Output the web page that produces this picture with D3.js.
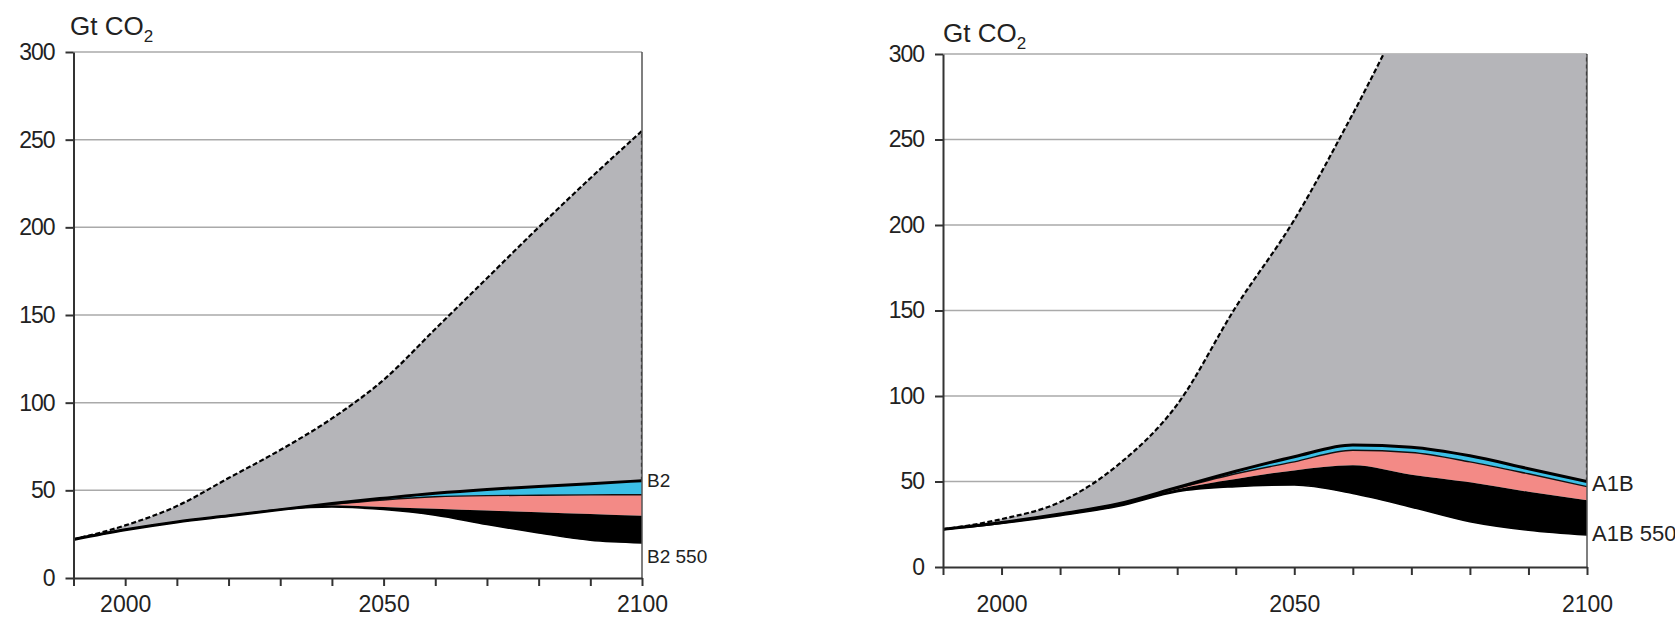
<!DOCTYPE html>
<html>
<head>
<meta charset="utf-8">
<script src="https://cdn.jsdelivr.net/npm/d3@7"></script>
<style>
  body { margin: 0; background: #fff; }
  text { font-family: "Liberation Sans Narrow", "Arial Narrow", "Liberation Sans", Arial, sans-serif; fill: #222; }
</style>
</head>
<body>
<svg id="chart" width="1675" height="619"></svg>
<script>
// years sampled every decade
const years = [1990, 2000, 2010, 2020, 2030, 2040, 2050, 2060, 2070, 2080, 2090, 2100]
const yTicks = [0, 50, 100, 150, 200, 250, 300]
const xLabelYears = [2000, 2050, 2100]

// B2 scenario (Gt CO2)
const b2Baseline = [22, 30, 41, 57, 73, 91, 113, 142, 171, 200, 228, 255]
const b2Blue     = [22, 27.5, 32, 35.5, 39, 42.5, 45.5, 48.3, 50.5, 52.2, 53.8, 55.5]
const b2Pink     = [22, 27.5, 32, 35.5, 39, 42, 44.5, 46.3, 47, 47.2, 47.4, 47.5]
const b2Black    = [22, 27.5, 32, 35.5, 39, 41.5, 40.5, 39.5, 38.5, 37.5, 36.5, 35.5]
const b2Stab     = [22, 27.5, 32, 35.5, 39, 40.5, 39, 35.8, 30.5, 25.7, 21.5, 20]

// A1B scenario (Gt CO2)
const a1bBaseline = [22, 28, 38, 60, 95, 152, 203, 265, 330, 380, 420, 450]
const a1bBlue     = [22, 26, 31, 37, 46.5, 56, 64.5, 71.3, 70, 65, 57.5, 50]
const a1bPink     = [22, 26, 31, 37, 46, 54.5, 61.5, 68.3, 67, 61.5, 54.5, 47]
const a1bBlack    = [22, 26, 31, 37, 45.5, 51.5, 56.5, 59.5, 54, 49.5, 44, 39]
const a1bStab     = [22, 25.5, 30, 35.5, 44, 47, 48, 43, 35, 26.5, 21.5, 18.7]

const colors = { gray: '#b5b5b9', blue: '#3bbfe6', pink: '#f38a86', black: '#000', grid: '#aaa', axis: '#333' }

const panels = [
  { id: 'b2', left: 73.5, right: 642, top: 52, bottom: 578, titleY: 35, titleX: 70, xPad: 10,
    base: b2Baseline, blue: b2Blue, pink: b2Pink, black: b2Black, stab: b2Stab,
    topLabel: 'B2', topDy: 0, lowLabel: 'B2 550', lowDy: 13, labelSize: 19 },
  { id: 'a1b', left: 943, right: 1587, top: 54, bottom: 567, titleY: 42, titleX: 943, xPad: 21,
    base: a1bBaseline, blue: a1bBlue, pink: a1bPink, black: a1bBlack, stab: a1bStab,
    topLabel: 'A1B', topDy: 2, lowLabel: 'A1B 550', lowDy: -2, labelSize: 22 }
]

const svg = d3.select('#chart')
const defs = svg.append('defs')

function drawPanel (p) {
  const x = d3.scaleLinear().domain([1990, 2100]).range([p.left, p.right])
  const y = d3.scaleLinear().domain([0, 300]).range([p.bottom, p.top])
  const g = svg.append('g')

  defs.append('clipPath').attr('id', 'clip-' + p.id)
    .append('rect')
    .attr('x', p.left).attr('y', p.top)
    .attr('width', p.right - p.left).attr('height', p.bottom - p.top)

  // horizontal grid
  g.append('g').selectAll('line')
    .data(yTicks.filter(d => d > 0))
    .join('line')
    .attr('x1', p.left).attr('x2', p.right)
    .attr('y1', d => y(d)).attr('y2', d => y(d))
    .attr('stroke', colors.grid).attr('stroke-width', 1.5)

  const rows = years.map((yr, i) => ({
    yr, base: p.base[i], blue: p.blue[i], pink: p.pink[i], black: p.black[i], stab: p.stab[i]
  }))
  const curve = d3.curveMonotoneX
  const band = (hi, lo) => d3.area().x(d => x(d.yr)).y0(d => y(d[lo])).y1(d => y(d[hi])).curve(curve)
  const line = key => d3.line().x(d => x(d.yr)).y(d => y(d[key])).curve(curve)

  const plot = g.append('g').attr('clip-path', 'url(#clip-' + p.id + ')')
  plot.append('path').datum(rows).attr('d', band('base', 'blue')).attr('fill', colors.gray)
  plot.append('path').datum(rows).attr('d', band('blue', 'pink')).attr('fill', colors.blue)
  plot.append('path').datum(rows).attr('d', band('pink', 'black')).attr('fill', colors.pink)
  plot.append('path').datum(rows).attr('d', band('black', 'stab')).attr('fill', colors.black)

  // outlines
  plot.append('path').datum(rows).attr('d', line('pink'))
    .attr('fill', 'none').attr('stroke', '#111').attr('stroke-width', 1.4)
  plot.append('path').datum(rows).attr('d', line('blue'))
    .attr('fill', 'none').attr('stroke', '#000').attr('stroke-width', 3)
  plot.append('path').datum(rows).attr('d', line('stab'))
    .attr('fill', 'none').attr('stroke', '#000').attr('stroke-width', 1.5)
  plot.append('path').datum(rows).attr('d', line('base'))
    .attr('fill', 'none').attr('stroke', '#000').attr('stroke-width', 2.2)
    .attr('stroke-dasharray', '5,2.5')

  const last = rows[rows.length - 1]

  // right frame + dashed edge of the gray wedge
  g.append('line')
    .attr('x1', x(2100)).attr('x2', x(2100))
    .attr('y1', y(0)).attr('y2', y(300))
    .attr('stroke', '#555').attr('stroke-width', 1.5)
  plot.append('line')
    .attr('x1', x(2100)).attr('x2', x(2100))
    .attr('y1', y(last.blue)).attr('y2', y(last.base))
    .attr('stroke', '#000').attr('stroke-width', 2.2)
    .attr('stroke-dasharray', '4,3')

  // axes
  const yAxis = g.append('g')
    .attr('transform', 'translate(' + p.left + ',0)')
    .call(d3.axisLeft(y).tickValues(yTicks).tickSize(8).tickSizeOuter(0).tickPadding(11))
  const xAxis = g.append('g')
    .attr('transform', 'translate(0,' + p.bottom + ')')
    .call(d3.axisBottom(x).tickValues(years).tickSize(8).tickSizeOuter(0).tickPadding(p.xPad)
      .tickFormat(d => xLabelYears.includes(d) ? d : ''))

  ;[yAxis, xAxis].forEach(ax => {
    ax.attr('font-family', null)
    ax.select('.domain').attr('stroke', colors.axis).attr('stroke-width', 2)
    ax.selectAll('.tick line').attr('stroke', colors.axis).attr('stroke-width', 2)
    ax.selectAll('.tick text').attr('font-size', 23).attr('fill', '#222')
  })
  yAxis.selectAll('.tick text').attr('letter-spacing', '-1px')

  // unit label
  const title = g.append('text')
    .attr('x', p.titleX).attr('y', p.titleY)
    .attr('font-size', 26)
  title.append('tspan').text('Gt CO')
  title.append('tspan').text('2').attr('font-size', 17).attr('dy', 7)

  // scenario end labels
  g.append('text')
    .attr('x', x(2100) + 5).attr('y', y(last.blue) + p.topDy)
    .attr('dy', '0.35em').attr('font-size', p.labelSize)
    .text(p.topLabel)
  g.append('text')
    .attr('x', x(2100) + 5).attr('y', y(last.stab) + p.lowDy)
    .attr('dy', '0.35em').attr('font-size', p.labelSize)
    .text(p.lowLabel)
}

panels.forEach(drawPanel)
</script>
</body>
</html>
